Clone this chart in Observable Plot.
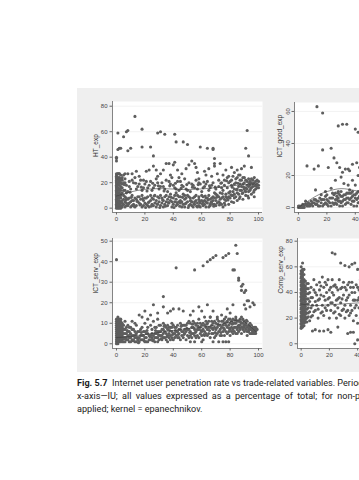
<!DOCTYPE html>
<html>
<head>
<meta charset="utf-8">
<script src="https://cdn.jsdelivr.net/npm/d3@7"></script>
<script src="https://cdn.jsdelivr.net/npm/@observablehq/plot@0.6"></script>
<style>
  html, body { margin: 0; padding: 0; background: #fff; }
  body { width: 359px; height: 480px; overflow: hidden; position: relative; }
  #box { position: absolute; left: 77px; top: 88px; width: 420px; height: 284px; background: #efefef; }
  .pan { position: absolute; }
  .cap { position: absolute; left: 77px; white-space: nowrap; font-family: Roboto, "Noto Sans", sans-serif; font-size: 9.1px; color: #1a1a1a; }
</style>
</head>
<body>
<div id="box"></div>
<div class="cap" id="c1" style="top:377.5px"><b>Fig. 5.7</b>&nbsp;&nbsp;Internet user penetration rate vs trade-related variables. Period</div>
<div class="cap" id="c2" style="top:390.5px; word-spacing:2px">x-axis—IU; all values expressed as a percentage of total; for non-parametric</div>
<div class="cap" id="c3" style="top:403.5px">applied; kernel = epanechnikov.</div>
<script>
// ---------- data ----------
const xTicks = [0, 20, 40, 60, 80, 100];
const htTicks = [0, 20, 40, 60, 80];
const ictGoodTicks = [0, 20, 40, 60];
const ictServTicks = [0, 10, 20, 30, 40, 50];
const compServTicks = [0, 20, 40, 60, 80];

const htPoints = [
  [0,1],[0,3],[0,5],[0,7],[0,9],[0,11],[0,13],[0,15],[0,17],[0,19],[0,21],[0,23],[0,25],
  [1,2],[1,4],[1,6],[1,8],[1,10],[1,12],[1,14],[1,16],[1,18],[1,20],[1,22],[1,24],[1,27],
  [2,1],[2,3],[2,6],[2,9],[2,12],[2,15],[2,18],[2,21],[2,24],[2,27],
  [3,2],[3,5],[3,8],[3,11],[3,14],[3,17],[3,20],[3,23],
  [4,1],[5,3],[6,5],[7,2],[8,7],[9,4],[10,1],[11,6],[12,3],[13,8],[14,2],[15,5],[16,9],[17,3],
  [18,1],[19,6],[20,4],[21,8],[22,2],[23,5],[24,10],[25,3],[26,7],[27,4],[28,1],[29,9],[30,5],
  [31,2],[32,8],[33,6],[34,3],[35,10],[36,7],[37,4],[38,11],[39,1],[40,8],[41,5],[42,12],[43,3],
  [44,9],[45,6],[46,1],[47,11],[48,7],[49,4],[50,10],[51,2],[52,8],[53,5],[54,1],[55,9],[56,6],
  [57,1],[58,7],[59,4],[60,10],[61,2],[62,6],[63,8],[64,4],[65,1],[66,7],[67,5],[68,9],[69,3],[70,6],
  [71,10],[72,5],[73,12],[74,8],[75,14],[76,7],[77,11],[78,16],[79,9],[80,13],[81,18],[82,10],
  [83,15],[84,20],[85,12],[86,17],[87,22],[88,14],[89,19],[90,24],[91,16],[92,21],[93,13],[94,18],
  [95,23],[96,17],[97,20],[98,15],[99,19],[100,21],[72,17],[74,20],[76,22],[78,24],[80,21],[82,25],
  [84,23],[86,26],[88,22],[90,20],[92,18],[94,21],[96,22],[98,18],
  [5,14],[7,18],[9,21],[10,15],[12,20],[13,24],[15,17],[17,22],[18,14],[20,19],[22,16],[24,21],
  [25,14],[27,18],[28,23],[30,15],[32,20],[33,17],[35,22],[36,13],[38,19],[39,24],[41,16],[43,21],
  [44,14],[46,18],[48,23],[49,15],[51,20],[52,13],[54,18],[56,22],[57,15],[59,19],[60,13],[62,17],
  [64,21],[65,14],[67,18],[69,12],
  [42,2],[45,4],[48,1],[52,3],[55,5],[58,2],[61,5],[63,1],[66,3],[68,6],[70,2],[73,4],[75,1],
  [77,6],[79,3],[81,5],[83,8],[85,6],[87,9],[89,7],[91,10],[93,8],[95,11],[97,9],
  [3,0],[4,4],[5,7],[6,1],[6,9],[7,4],[8,2],[9,8],[10,5],[11,2],[11,10],[12,6],[13,1],[14,7],[15,9],
  [16,4],[17,7],[18,10],[19,2],[20,8],[21,3],[22,9],[23,1],[24,6],[25,8],[26,2],[27,10],[28,6],[29,3],
  [30,8],[31,10],[32,4],[33,1],[34,9],[35,5],[36,2],[37,9],[38,6],[39,5],[40,3],[41,10],[42,7],[43,10],
  [44,5],[45,9],[46,5],[47,3],[48,10],[49,8],[50,5],[51,9],[52,6],[53,2],[54,8],[55,3],[56,10],[57,4],
  [58,9],[59,1],[60,6],[61,9],[62,3],[63,5],[64,8],[65,10],[66,2],[67,8],[68,3],[69,8],[70,11],[71,4],
  [72,9],[73,7],[74,3],[75,9],[76,4],[77,9],[78,8],[79,12],[80,8],[81,10],[82,13],[83,11],[84,9],
  [85,15],[86,11],[87,14],[88,17],[89,12],[90,15],[91,13],[92,15],[93,17],[94,14],[95,16],[96,19],
  [97,14],[98,21],[99,16],[100,18],
  [4.5,2.5],[6.5,6.5],[8.5,3.5],[10.5,8.5],[12.5,1.5],[14.5,5.5],[16.5,2.5],[18.5,7.5],[20.5,0.5],
  [22.5,4.5],[24.5,1.5],[26.5,9.5],[28.5,3.5],[30.5,0.5],[32.5,6.5],[34.5,1.5],[36.5,4.5],[38.5,8.5],
  [40.5,0.5],[42.5,4.5],[44.5,1.5],[46.5,8.5],[48.5,3.5],[50.5,0.5],[52.5,5.5],[54.5,3.5],[56.5,1.5],
  [58.5,5.5],[60.5,3.5],[62.5,9.5],[64.5,6.5],[66.5,4.5],[68.5,1.5],[70.5,8.5],[72.5,2.5],[74.5,11.5],
  [76.5,2.5],[78.5,6.5],[80.5,10.5],[82.5,4.5],[84.5,14.5],[86.5,7.5],[88.5,11.5],[90.5,13.5],
  [92.5,9.5],[94.5,15.5],[96.5,12.5],[98.5,17.5],
  [5.5,18.5],[9.5,12.5],[13.5,19.5],[17.5,16.5],[21.5,13.5],[25.5,19.5],[29.5,17.5],[33.5,13.5],
  [37.5,17.5],[41.5,19.5],[45.5,15.5],[49.5,18.5],[53.5,16.5],[57.5,18.5],[61.5,20.5],[65.5,17.5],
  [69.5,16.5],[73.5,19.5],[77.5,21.5],[81.5,16.5],[85.5,19.5],[89.5,16.5],[93.5,19.5],[97.5,17.5],
  [4,16],[6,20],[8,13],[9,17],[11,22],[14,15],[16,19],[19,16],[21,21],[23,18],[26,16],[29,20],[31,17],
  [34,15],[37,21],[40,18],[42,15],[45,21],[47,17],[50,14],[53,19],[55,16],[58,20],[61,16],[63,19],
  [66,16],[68,20],[70,15],[72,22],[74,16],[76,18],[79,20],[81,22],[83,19],[85,24],[87,19],[89,24],
  [91,22],[93,23],[95,20],[97,24],[99,22],[100,16],
  [0,0],[0,2],[0,4],[0,6],[0,8],[0,10],[0,12],[0,14],[0,16],[0,18],[0,20],[0,22],[0,24],[0,26],
  [1,0],[1,3],[1,9],[1,15],[1,21],[2,0],[2,4],[2,8],[2,14],[2,19],[2,23],[3,4],[3,10],[3,16],[3,22],
  [3,26],[4,6],[4,12],[4,19],[4,22],[5,10],[5,20],[5,26],[6,14],[6,23],[7,8],[7,12],
  [0,27],[1,27],[2,27],[4,24],[6,27],[8,27],[11,27],[14,29],[16,25],[19,22],[21,29],[23,30],
  [26,33],[28,30],[29,25],[31,27],[33,30],[35,35],[37,35],[38,26],[40,34],[41,36],[43,30],[44,24],
  [46,27],[49,31],[51,34],[53,37],[55,35],[56,32],[57,28],[58,23],[62,29],[63,26],[65,31],[67,25],
  [69,33],[71,27],[73,35],[75,26],[77,30],[79,25],[81,32],[83,28],[85,30],[87,26],[88,31],[90,33],
  [0,37],[0,39],[0,40],[1,46],[1,59],[2,47],[3,47],[5,56],[7,60],[8,61],[8,45],[10,47],[13,72],
  [18,62],[18,48],[24,48],[26,41],[29,59],[31,60],[34,58],[41,58],[42,52],[47,52],[50,50],[59,48],
  [64,47],[68,47],[68,46],[69,39],[69,35],[91,47],[92,61],[93,41],[95,32]
];
const htSmooth = [[0,9.5],[10,13],[20,15],[30,15.5],[40,15],[50,14.5],[60,15],[70,16],[80,17.5],[90,18.5],[98,19]];

const ictGoodPoints = [
  [0,0],[1,0],[2,1],[3,0],[4,1],[5,2],[6,1],[7,3],[8,2],[9,4],[10,1],[11,3],[12,5],[13,2],[14,4],
  [15,6],[16,3],[17,1],[18,5],[19,7],[20,2],[21,4],[22,6],[23,1],[24,3],[25,8],[26,5],[27,2],[28,6],
  [29,4],[30,7],[31,1],[32,5],[33,8],[34,3],[35,6],[36,9],[37,2],[38,7],[39,4],[40,8],[41,1],[42,6],
  [43,3],[44,9],[1,1],[3,2],[5,4],[7,1],[9,2],[11,5],[13,4],[15,1],[17,5],[19,3],[21,1],[23,6],
  [25,2],[27,5],[29,1],[31,7],[33,2],[35,3],[37,6],[39,1],[41,5],[43,7],[26,9],[30,10],[34,9],
  [38,10],[42,10],[28,10],[36,11],
  [0,1],[2,0],[4,0],[6,2],[8,1],[10,3],[12,2],[14,1],[16,5],[18,2],[20,5],[22,3],[24,6],[26,3],
  [28,4],[30,3],[32,8],[34,6],[36,5],[38,4],[40,6],[42,3],[44,5],[27,7],[31,4],[33,5],[37,9],
  [39,8],[41,9],[29,8],[35,9],[43,10],[24,9],[20,8],[16,8],
  [13,63],[17,59],[28,51],[31,52],[34,52],[40,49],[42,47],[17,36],[23,37],[6,26],[11,24],[14,26],
  [21,25],[25,31],[27,28],[29,25],[31,22],[33,24],[35,24],[36,23],[38,27],[41,28],[43,25],[26,17],
  [30,19],[32,15],[35,14],[38,17],[40,14],[42,20],[12,11],[19,10],[23,12],[28,9],
  [50,5],[55,8],[60,3],[65,10],[70,6],[75,4],[80,9],[85,2],[90,7],[95,5]
];
const ictGoodSmooth = [[0,0],[5,3],[10,6],[15,8.5],[20,10],[25,11.3],[30,12],[35,11.5],[40,10.5],[50,9],[60,8]];

const ictServPoints = [
  [0,1],[0,2],[0,4],[0,6],[0,8],[0,10],[0,12],[1,1],[1,3],[1,5],[1,7],[1,9],[1,11],[1,13],
  [2,2],[2,4],[2,6],[2,8],[2,10],[2,12],[3,1],[3,3],[3,5],[3,7],[3,9],[3,11],[4,2],[4,4],[4,6],
  [4,8],[4,10],[5,1],[5,5],[5,9],[6,3],[6,7],[6,11],[7,2],[7,5],[8,4],[8,9],[9,1],[9,6],[10,3],[10,8],
  [11,2],[12,4],[13,1],[14,5],[15,3],[16,1],[17,4],[18,2],[19,6],[20,3],[21,1],[22,5],[23,2],[24,4],
  [25,7],[26,2],[27,5],[28,3],[29,1],[30,6],[31,4],[32,2],[33,7],[34,3],[35,5],[36,1],[37,8],[38,4],
  [39,6],[40,2],[12,7],[15,6],[18,8],[21,5],[24,9],[27,8],[30,9],[33,10],[36,9],[39,10],[14,9],
  [20,10],[26,11],[29,12],
  [41,5],[42,8],[43,3],[44,7],[45,10],[46,4],[47,6],[48,9],[49,2],[50,7],[51,11],[52,4],[53,8],
  [54,5],[55,10],[56,3],[57,7],[58,12],[59,5],[60,9],[61,2],[62,6],[63,11],[64,4],[65,8],[66,13],
  [67,5],[68,10],[69,3],[70,7],[71,12],[72,6],[73,9],[74,4],[75,11],[76,7],[77,13],[78,5],[79,9],
  [80,12],[81,6],[82,10],[83,8],[84,13],[85,7],[86,11],[87,9],[88,5],[89,12],[90,8],[91,10],[92,6],
  [93,9],[94,7],[95,5],[96,8],[97,6],[98,5],[99,7],[80,4],[82,7],[84,5],[86,8],[88,10],[90,6],
  [92,4],[94,10],[96,6],[98,7],[68,1],[72,1],[75,1],[77,1],[79,1],[60,1],[55,1],[52,1],
  [0,0],[0,3],[0,5],[0,7],[0,9],[0,11],[1,0],[1,2],[1,4],[1,6],[1,8],[1,10],[1,12],[2,1],[2,3],
  [2,5],[2,7],[2,9],[2,11],[3,2],[3,4],[3,6],[3,8],[3,10],[3,12],[4,1],[4,3],[4,5],[4,7],[4,9],
  [5,3],[5,7],[6,1],[6,5],[7,3],[7,8],[8,2],[8,6],[9,3],[9,8],[10,1],[10,5],[11,4],[11,7],[12,2],
  [13,3],[13,6],[14,1],[14,3],[15,2],[16,3],[16,6],[17,2],[17,7],[18,4],[19,2],[19,4],[20,1],[20,6],
  [21,3],[22,1],[22,8],[23,4],[24,2],[25,3],[25,5],[26,4],[27,1],[27,3],[28,5],[28,8],[29,3],[29,6],
  [30,2],[30,4],[31,6],[31,9],[32,4],[32,7],[33,3],[33,5],[34,6],[34,9],[35,2],[35,8],[36,4],[36,7],
  [37,3],[37,5],[38,2],[38,8],[39,3],[39,8],[40,5],[40,9],[41,3],[41,8],[42,4],[42,6],[43,6],[43,9],
  [44,3],[44,5],[45,2],[45,7],[46,6],[46,9],[47,3],[47,9],[48,5],[48,7],[49,6],[49,9],[50,4],[50,10],
  [51,3],[51,7],[52,6],[52,10],[53,3],[53,5],[54,8],[54,11],[55,4],[55,7],[56,6],[56,9],[57,4],
  [57,10],[58,3],[58,7],[59,8],[59,10],[60,4],[60,6],[61,7],[61,10],[62,4],[62,9],[63,5],[63,8],
  [64,7],[64,10],[65,5],[65,11],[66,3],[66,8],[67,9],[67,11],[68,5],[68,7],[69,8],[69,11],[70,4],
  [70,10],[71,5],[71,8],[72,9],[72,11],[73,4],[73,7],[74,8],[74,11],[75,6],[75,9],[76,4],[76,10],
  [77,6],[77,9],[78,8],[78,11],[79,6],[79,12],[80,7],[80,10],[81,8],[81,11],[82,5],[82,12],[83,6],
  [83,10],[84,8],[84,10],[85,5],[85,11],[86,6],[86,9],[87,7],[87,12],[88,8],[88,13],[89,7],[89,10],
  [90,9],[90,11],[91,7],[91,9],[92,8],[92,11],[93,6],[93,7],[94,5],[94,8],[95,7],[95,9],[96,5],
  [96,7],[97,5],[97,8],[98,6],[98,8],
  [5.5,2.5],[7.5,6.5],[9.5,4.5],[11.5,1.5],[13.5,4.5],[15.5,0.5],[17.5,5.5],[19.5,1.5],[21.5,6.5],
  [23.5,3.5],[25.5,1.5],[27.5,6.5],[29.5,4.5],[31.5,2.5],[33.5,8.5],[35.5,3.5],[37.5,6.5],[39.5,4.5],
  [41.5,6.5],[43.5,4.5],[45.5,8.5],[47.5,4.5],[49.5,7.5],[51.5,5.5],[53.5,9.5],[55.5,5.5],[57.5,8.5],
  [59.5,6.5],[61.5,4.5],[63.5,9.5],[65.5,6.5],[67.5,7.5],[69.5,5.5],[71.5,9.5],[73.5,5.5],[75.5,7.5],
  [77.5,10.5],[79.5,7.5],[81.5,9.5],[83.5,11.5],[85.5,8.5],[87.5,10.5],[89.5,8.5],[91.5,11.5],
  [93.5,8.5],[95.5,6.5],[97.5,7.5],
  [0,41],[42,37],[55,36],[61,38],[64,40],[66,41],[68,42],[70,43],[75,42],[77,43],[79,44],[84,48],
  [85,44],[82,36],[83,36],[86,32],[86,31],[88,28],[89,29],[88,26],[90,25],[91,26],[92,21],[93,21],
  [90,19],[91,17],[94,18],[96,20],[97,19],[33,23],[33,18],[40,17],[38,16],[36,15],[26,19],[29,15],
  [20,16],[18,13],[16,14],[44,17],[47,16],[52,14],[54,16],[58,18],[60,16],[62,13],[64,19],[66,13],
  [68,16],[71,13],[74,14],[76,12],[78,17],[80,15],[82,19],[84,12],[11,11],[13,10],[22,12],[24,14]
];
const ictServSmooth = [[0,3],[10,3.5],[20,4.5],[30,5.5],[40,6.5],[50,7.5],[60,8],[70,9],[80,10.5],[86,12],[90,11],[95,8],[98,6]];

const compServPoints = [
  [0,12],[0,15],[0,18],[0,21],[0,24],[0,27],[0,30],[0,33],[0,36],[0,39],[0,42],[0,45],[0,48],[0,51],
  [0,54],[0,57],[0,60],[1,13],[1,16],[1,19],[1,22],[1,25],[1,28],[1,31],[1,34],[1,37],[1,40],[1,43],
  [1,46],[1,49],[1,52],[1,56],[1,63],[2,14],[2,18],[2,22],[2,26],[2,30],[2,34],[2,38],[2,42],[2,46],
  [2,50],[2,58],[3,17],[3,21],[3,25],[3,29],[3,33],[3,37],[3,41],[3,45],[4,20],[4,27],[4,35],[4,43],
  [5,24],[5,31],[5,39],[5,47],
  [0,13],[0,16],[0,19],[0,22],[0,25],[0,28],[0,31],[0,34],[0,37],[0,40],[0,43],[0,46],[0,49],[0,52],
  [0,55],[1,14],[1,17],[1,20],[1,23],[1,26],[1,29],[1,32],[1,35],[1,38],[1,41],[1,44],[1,47],[1,50],
  [1,54],[1,58],[2,16],[2,20],[2,24],[2,28],[2,32],[2,36],[2,40],[2,44],[2,48],[2,54],[3,19],[3,23],
  [3,27],[3,31],[3,35],[3,39],[3,43],[3,49],[4,17],[4,24],[4,31],[4,39],[4,47],[5,21],[5,28],[5,35],
  [5,43],[6,25],[6,33],[6,40],[7,21],[7,36],[8,30],[9,25],[9,42],[10,33],[11,38],[12,27],[13,35],
  [14,45],[15,25],[16,37],[17,28],[18,46],[19,35],[20,42],[21,32],[22,40],[23,45],[24,25],[25,44],
  [26,35],[27,23],[28,43],[29,35],[30,27],[31,44],[32,25],[33,36],[34,48],[35,24],[36,40],[37,44],
  [38,34],[39,30],[40,44],[41,36],[42,28],[43,46],[44,34],
  [6,18],[7,28],[7,44],[8,22],[8,36],[9,50],[10,26],[10,40],[11,30],[11,46],[12,20],[12,34],[13,42],
  [13,48],[14,24],[14,38],[15,30],[15,52],[16,22],[16,44],[17,34],[17,48],[18,26],[18,40],[19,30],
  [19,50],[20,20],[20,36],[21,44],[21,26],[22,32],[22,50],[23,38],[23,24],[24,46],[24,30],[25,34],
  [25,20],[26,42],[26,28],[27,36],[27,50],[28,22],[28,32],[29,44],[29,26],[30,38],[30,48],[31,30],
  [31,20],[32,42],[32,34],[33,26],[33,46],[34,38],[34,22],[35,30],[35,44],[36,48],[36,26],[37,34],
  [37,18],[38,40],[38,28],[39,46],[39,22],[40,34],[40,16],[41,42],[41,28],[42,50],[42,20],[43,36],
  [43,30],[44,44],[44,24],
  [8,10],[10,11],[13,10],[16,10],[19,11],[21,9],[26,13],[33,8],[35,9],[37,9],[38,0],[40,3],
  [22,71],[24,70],[28,63],[31,61],[34,60],[36,62],[38,63],[40,58],
  [50,30],[55,40],[60,25],[65,35],[70,45],[75,30],[80,20],[85,38],[90,28],[95,33]
];
const compServSmooth = [[0,31],[5,30],[10,29.5],[20,30.5],[30,31],[40,32],[50,32],[60,31],[70,31],[80,30],[90,30]];

// ---------- drawing ----------
const box = document.getElementById("box");
const FONT = "'Liberation Sans', Arial, sans-serif";

function panel(o) {
  const xd = o.xDomain, yd = o.yDomain;
  const chart = Plot.plot({
    width: o.width, height: o.height,
    marginLeft: o.ml, marginRight: o.mr, marginTop: o.mt, marginBottom: o.mb,
    style: { background: "transparent", fontFamily: FONT, fontSize: "6px", color: "#444", overflow: "visible" },
    x: { domain: xd, label: null },
    y: { domain: yd, label: null },
    marks: [
      Plot.frame({ fill: "white", stroke: null }),
      Plot.ruleY(o.yTicks, { stroke: "#e9e9e9", strokeWidth: 0.6 }),
      Plot.dot(o.points, { x: d => d[0], y: d => d[1], r: 1.55, fill: "#5e5e5e", stroke: null }),
      Plot.line(o.smooth, { x: d => d[0], y: d => d[1], stroke: "#3a3a3a", strokeWidth: 0.6, curve: "basis" }),
      Plot.ruleX([xd[0]], { stroke: "#666", strokeWidth: 0.8 }),
      Plot.ruleY([yd[0]], { stroke: "#666", strokeWidth: 0.8 }),
      Plot.axisX({ ticks: xTicks, tickSize: 2.5, tickPadding: 1.5, label: null, stroke: "#666" }),
      Plot.axisY({ ticks: o.yTicks, tickSize: 2.5, tickPadding: 2.5, label: null, stroke: "#666", tickRotate: o.rot || 0 }),
      Plot.text([o.title], { frameAnchor: "left", dx: o.titleDx, rotate: -90, text: d => d, fontSize: 6.5, fill: "#333" })
    ]
  });
  chart.classList.add("pan");
  chart.style.left = o.left + "px";
  chart.style.top = o.top + "px";
  box.appendChild(chart);
}

// panel coordinates relative to the grey box (left 77, top 88)
panel({ points: htPoints, smooth: htSmooth, title: "HT_exp", titleDx: -17,
  xDomain: [-2.8, 102.8], yDomain: [-3.4, 83.7], yTicks: htTicks,
  left: 0, top: 4, width: 188, height: 136, ml: 35, mr: 3, mt: 9, mb: 16 });

panel({ points: ictGoodPoints, smooth: ictGoodSmooth, title: "ICT_good_exp", titleDx: -15, rot: -90,
  xDomain: [-2.8, 102.8], yDomain: [-3.1, 65.6], yTicks: ictGoodTicks,
  left: 181, top: 4, width: 189, height: 136, ml: 36, mr: 3, mt: 10, mb: 16 });

panel({ points: ictServPoints, smooth: ictServSmooth, title: "ICT_serv_exp", titleDx: -17,
  xDomain: [-2.8, 102.8], yDomain: [-2.3, 51.3], yTicks: ictServTicks,
  left: 0, top: 141, width: 188, height: 135, ml: 35, mr: 3, mt: 9, mb: 16 });

panel({ points: compServPoints, smooth: compServSmooth, title: "Comp_serv_exp", titleDx: -17,
  xDomain: [-2.6, 103], yDomain: [-3.7, 82.1], yTicks: compServTicks,
  left: 181, top: 141, width: 191, height: 135, ml: 39, mr: 3, mt: 9, mb: 16 });
</script>
</body>
</html>
